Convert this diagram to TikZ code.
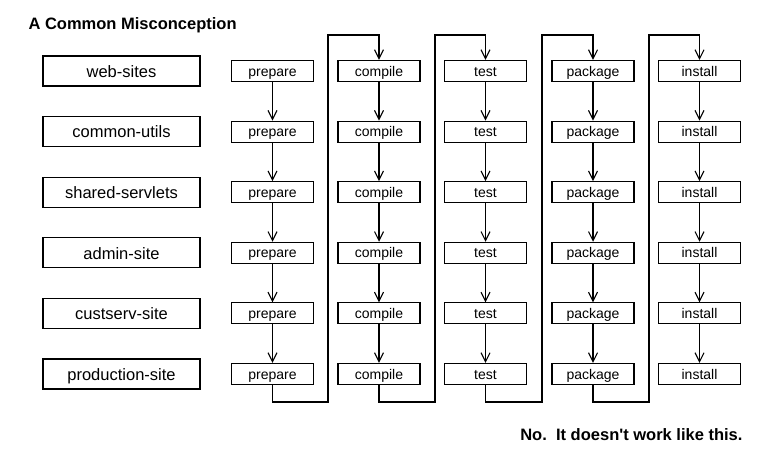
\documentclass[tikz,border=0pt]{standalone}
\usepackage{fontspec}
\setmainfont{Liberation Sans}
\usetikzlibrary{arrows.meta}
\begin{document}
\begin{tikzpicture}[x=1pt,y=-1pt,line width=1.1pt,
  modbox/.style={draw,minimum width=157pt,minimum height=30pt,inner sep=0pt,
    text height=13pt,text depth=0.5pt,font=\fontsize{16.5}{18}\selectfont},
  phasebox/.style={draw,minimum width=82pt,minimum height=21pt,inner sep=0pt,
    text height=11pt,text depth=1pt,font=\fontsize{14}{16}\selectfont},
  flow/.style={-{Straight Barb[length=9pt,width=9pt,line width=1.1pt]}},
  bigtext/.style={inner sep=0pt,font=\bfseries\fontsize{16.5}{18}\selectfont}]
\useasboundingbox (0,0) rectangle (772,458);
\node[bigtext,anchor=base west] (title) at (28,29) {A Common Misconception};
\node[bigtext,anchor=base east] (note) at (743,440) {No.\ \ It doesn\textquotesingle t work like this.};
\foreach \name [count=\i from 0] in {web-sites,common-utils,shared-servlets,admin-site,custserv-site,production-site}
  \node[modbox] (m\i) at (121.5,{71+60.6*\i}) {\name};
\foreach \ph/\x [count=\j from 0] in {prepare/272.5,compile/379,test/485.5,package/593,install/699.5}
  \foreach \i in {0,...,5}
    \node[phasebox] (p\i-\j) at (\x,{71+60.6*\i}) {\ph};
\foreach \j in {0,...,4}{
  \foreach \i in {0,...,4}{
    \pgfmathtruncatemacro{\nx}{\i+1}
    \draw[flow] (p\i-\j.south) -- (p\nx-\j.north);
  }
}
\coordinate (bot) at (0,402);
\coordinate (top) at (0,35);
\foreach \j/\lx in {0/328,1/435,2/542,3/649}{
  \pgfmathtruncatemacro{\nc}{\j+1}
  \coordinate (lb\j) at (\lx,402);
  \coordinate (lt\j) at (\lx,35);
  \draw[flow] (p5-\j.south) -- (p5-\j.south |- bot) -- (lb\j) -- (lt\j)
     -- (p0-\nc.north |- top) -- (p0-\nc.north);
}
\end{tikzpicture}
\end{document}
